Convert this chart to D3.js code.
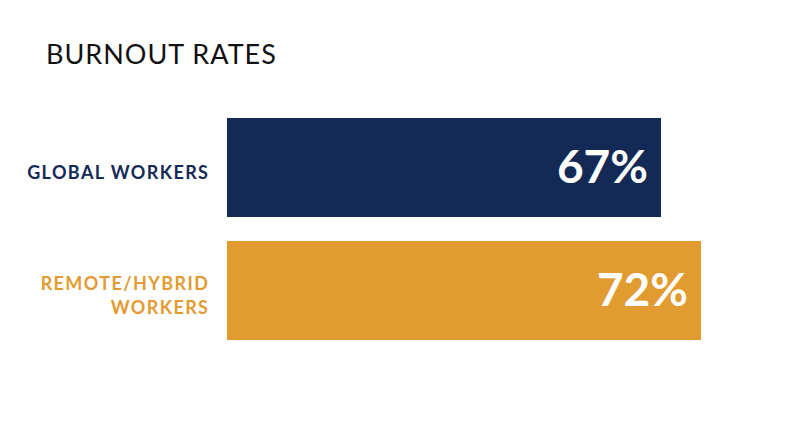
<!DOCTYPE html>
<html>
<head>
<meta charset="utf-8">
<script src="https://cdn.jsdelivr.net/npm/d3@7"></script>
<style>
  body { margin: 0; background: #fff; }
  text { font-family: "Lato", "Open Sans", sans-serif; }
</style>
</head>
<body>
<script>
// data
var title = "BURNOUT RATES";
var groups = ["GLOBAL WORKERS", "REMOTE/HYBRID WORKERS"];
var labelLines = [["GLOBAL WORKERS"], ["REMOTE/HYBRID", "WORKERS"]];
var values = [67, 72];
var colors = ["#142a56", "#e29b31"];

var width = 800, height = 447;

var svg = d3.select("body").append("svg")
    .attr("width", width)
    .attr("height", height);

// the source axis is cut, bars do not start at zero
var xScale = d3.scaleLinear()
    .domain([12.75, 72])
    .range([227, 701]);

var yScale = d3.scaleBand()
    .domain(groups)
    .range([118, 340])
    .paddingInner(0.195)
    .paddingOuter(0);

svg.append("text")
    .attr("x", 46)
    .attr("y", 64)
    .attr("font-size", 27)
    .attr("letter-spacing", 1)
    .attr("fill", "#111")
    .text(title);

svg.selectAll(".bar")
    .data(values)
    .enter().append("rect")
    .attr("class", "bar")
    .attr("x", xScale(12.75))
    .attr("y", function (d, i) { return yScale(groups[i]) })
    .attr("width", function (d) { return xScale(d) - xScale(12.75) })
    .attr("height", yScale.bandwidth())
    .attr("fill", function (d, i) { return colors[i] });

svg.selectAll(".value")
    .data(values)
    .enter().append("text")
    .attr("class", "value")
    .attr("x", function (d) { return xScale(d) - 13 })
    .attr("y", function (d, i) { return yScale(groups[i]) + yScale.bandwidth() / 2 + 15.5 })
    .attr("text-anchor", "end")
    .attr("font-size", 46)
    .attr("font-weight", 700)
    .attr("fill", "#fff")
    .text(function (d) { return d + "%" });

// category labels, right aligned to the left of the bars
labelLines.forEach(function (lines, i) {
    var mid = yScale(groups[i]) + yScale.bandwidth() / 2;
    var lh = 23.5;
    var first = mid + 11.5 - (lines.length - 1) * lh / 2;
    var t = svg.append("text")
        .attr("text-anchor", "end")
        .attr("font-size", 18)
        .attr("font-weight", 700)
        .attr("letter-spacing", 1.4)
        .attr("fill", colors[i]);
    lines.forEach(function (l, j) {
        t.append("tspan")
            .attr("x", 209.4)
            .attr("y", first + j * lh)
            .text(l);
    });
});
</script>
</body>
</html>
